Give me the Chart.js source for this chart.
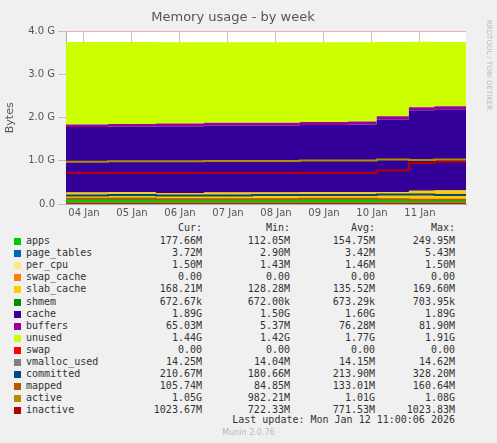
<!DOCTYPE html>
<html><head><meta charset="utf-8">
<script src="https://cdn.jsdelivr.net/npm/chart.js@4"></script>
<style>
body{margin:0;background:#f0f0f0;width:497px;height:443px;overflow:hidden;font-family:"DejaVu Sans Mono",monospace;font-size:10px;color:#333}
#wrap{position:absolute;left:0;top:0;width:497px;height:222px}
.t{position:absolute;white-space:pre}
.r{text-align:right}
.sw{position:absolute;width:7px;height:7px}
</style></head><body>
<div id="wrap"><canvas id="c" width="497" height="222"></canvas></div>
<div id="leg"></div>
<script>
// time in days; label "04 Jan" sits at 0
const times = [-0.375, 0.5, 1.5, 2.5, 3.5, 4.5, 5.5, 6.1, 6.77, 7.3, 7.96];
const dayLabels = ["04 Jan","05 Jan","06 Jan","07 Jan","08 Jan","09 Jan","10 Jan","11 Jan"];
// values in G
const apps       = [0.13,0.14,0.12,0.12,0.12,0.13,0.13,0.12,0.11,0.11,0.11];
const pageTables = [0.004,0.004,0.003,0.003,0.003,0.003,0.003,0.004,0.004,0.004,0.004];
const perCpu     = [0.0015,0.0015,0.0015,0.0015,0.0015,0.0015,0.0015,0.0015,0.0015,0.0015,0.0015];
const swapCache  = [0,0,0,0,0,0,0,0,0,0,0];
const slabCache  = [0.13,0.13,0.13,0.14,0.14,0.14,0.14,0.15,0.19,0.2,0.2];
const shmem      = [0.0007,0.0007,0.0007,0.0007,0.0007,0.0007,0.0007,0.0007,0.0007,0.0007,0.0007];
const cache      = [1.52,1.52,1.54,1.55,1.55,1.56,1.57,1.68,1.87,1.88,1.89];
const buffers    = [0.06,0.06,0.07,0.07,0.07,0.07,0.07,0.08,0.07,0.07,0.065];
const unused     = [1.91,1.9,1.89,1.87,1.87,1.85,1.84,1.72,1.52,1.49,1.48];
const swap       = [0,0,0,0,0,0,0,0,0,0,0];
const vmalloc    = [0.014,0.014,0.014,0.014,0.014,0.014,0.014,0.014,0.014,0.014,0.014];
const committed  = [0.2,0.21,0.2,0.2,0.21,0.21,0.21,0.22,0.22,0.21,0.21];
const mapped     = [0.12,0.12,0.11,0.11,0.11,0.12,0.12,0.11,0.1,0.1,0.1];
const active     = [0.98,0.99,0.99,1.0,1.0,1.01,1.01,1.03,1.02,1.03,1.04];
const inactive   = [0.72,0.72,0.72,0.72,0.72,0.72,0.72,0.78,0.95,0.98,1.0];

const areas = [
  ["apps",apps,"#00CC00"],["page_tables",pageTables,"#0066B3"],["per_cpu",perCpu,"#FFE680"],
  ["swap_cache",swapCache,"#FF8000"],["slab_cache",slabCache,"#FFCC00"],["shmem",shmem,"#008F00"],
  ["cache",cache,"#330099"],["buffers",buffers,"#990099"],["unused",unused,"#CCFF00"]
];
const lines = [
  ["swap",swap,"#FF0000"],["vmalloc_used",vmalloc,"#808080"],["committed",committed,"#00487D"],
  ["mapped",mapped,"#B35A00"],["active",active,"#B38F00"],["inactive",inactive,"#B30000"]
];
const legendStats = [
  ["apps","177.66M","112.05M","154.75M","249.95M"],
  ["page_tables","3.72M","2.90M","3.42M","5.43M"],
  ["per_cpu","1.50M","1.43M","1.46M","1.50M"],
  ["swap_cache","0.00","0.00","0.00","0.00"],
  ["slab_cache","168.21M","128.28M","135.52M","169.60M"],
  ["shmem","672.67k","672.00k","673.29k","703.95k"],
  ["cache","1.89G","1.50G","1.60G","1.89G"],
  ["buffers","65.03M","5.37M","76.28M","81.90M"],
  ["unused","1.44G","1.42G","1.77G","1.91G"],
  ["swap","0.00","0.00","0.00","0.00"],
  ["vmalloc_used","14.25M","14.04M","14.15M","14.62M"],
  ["committed","210.67M","180.66M","213.90M","328.20M"],
  ["mapped","105.74M","84.85M","133.01M","160.64M"],
  ["active","1.05G","982.21M","1.01G","1.08G"],
  ["inactive","1023.67M","722.33M","771.53M","1023.83M"]
];

const pts = arr => arr.map((v,i) => ({x: times[i], y: v}));
const datasets = [];
areas.forEach(([n,d,c],i) => datasets.push({
  label:n, data:pts(d), backgroundColor:c, borderColor:c, borderWidth:0,
  fill: i === 0 ? "origin" : "-1", stack:"mem", stepped:"before", pointRadius:0, order:2
}));
lines.forEach(([n,d,c]) => datasets.push({
  label:n, data:pts(d), borderColor:c, borderWidth:2, fill:false,
  stack:n, stepped:"before", pointRadius:0, order:1
}));

const gridCol = "rgba(210,130,130,0.55)";
new Chart(document.getElementById("c"), {
  type:"line",
  data:{datasets},
  options:{
    responsive:false, animation:false,
    layout:{padding:{left:0,right:31,top:0,bottom:0}},
    plugins:{
      legend:{display:false}, tooltip:{enabled:false},
      title:{display:true,text:"Memory usage - by week",color:"#555",
        font:{family:"DejaVu Sans",size:13,weight:"normal"},padding:{top:10,bottom:6}}
    },
    scales:{
      x:{type:"linear",min:-0.375,max:7.96,
        afterBuildTicks:a=>{a.ticks=dayLabels.map((_,i)=>({value:i}));},
        ticks:{color:"#555",font:{family:"DejaVu Sans",size:10},callback:v=>dayLabels[Math.round(v)],maxRotation:0},
        grid:{color:gridCol,drawTicks:false},border:{color:"#aaa"}},
      y:{stacked:true,min:0,max:4,afterFit:s=>{s.width=66;},
        ticks:{stepSize:1,color:"#555",font:{family:"DejaVu Sans",size:10},callback:v=>v.toFixed(1)+(v?" G":"")},
        title:{display:true,text:"Bytes",color:"#555",font:{family:"DejaVu Sans",size:11}},
        grid:{color:gridCol},border:{color:"#aaa"}}
    }
  },
  plugins:[{id:"bg",beforeDraw(ch){const a=ch.chartArea,x=ch.ctx;x.save();x.fillStyle="#fff";x.fillRect(a.left,a.top,a.right-a.left,a.bottom-a.top);x.restore();},
    afterDraw(ch){const x=ch.ctx;x.save();x.translate(487,20);x.rotate(Math.PI/2);x.fillStyle="#bbb";x.font="7px DejaVu Sans";x.fillText("RRDTOOL / TOBI OETIKER",0,0);x.restore();}}]
});

const leg = document.getElementById("leg");
let h = "";
const hy = 222;
h += `<div class="t r" style="left:140px;top:${hy}px;width:62px">Cur:</div>`;
h += `<div class="t r" style="left:220px;top:${hy}px;width:70px">Min:</div>`;
h += `<div class="t r" style="left:300px;top:${hy}px;width:75px">Avg:</div>`;
h += `<div class="t r" style="left:380px;top:${hy}px;width:75px">Max:</div>`;
const colors = Object.fromEntries(areas.concat(lines).map(a=>[a[0],a[2]]));
legendStats.forEach((r,i) => {
  const y = 235 + i*12.1;
  h += `<div class="sw" style="left:14px;top:${y+3}px;background:${colors[r[0]]}"></div>`;
  h += `<div class="t" style="left:26px;top:${y}px">${r[0]}</div>`;
  h += `<div class="t r" style="left:120px;top:${y}px;width:82px">${r[1]}</div>`;
  h += `<div class="t r" style="left:200px;top:${y}px;width:90px">${r[2]}</div>`;
  h += `<div class="t r" style="left:285px;top:${y}px;width:90px">${r[3]}</div>`;
  h += `<div class="t r" style="left:365px;top:${y}px;width:90px">${r[4]}</div>`;
});
h += `<div class="t r" style="left:200px;top:414px;width:255px">Last update: Mon Jan 12 11:00:06 2026</div>`;
h += `<div class="t" style="left:0;top:428px;width:497px;text-align:center;color:#bbb;font-family:'DejaVu Sans';font-size:8px">Munin 2.0.76</div>`;
leg.innerHTML = h;
</script>
</body></html>
